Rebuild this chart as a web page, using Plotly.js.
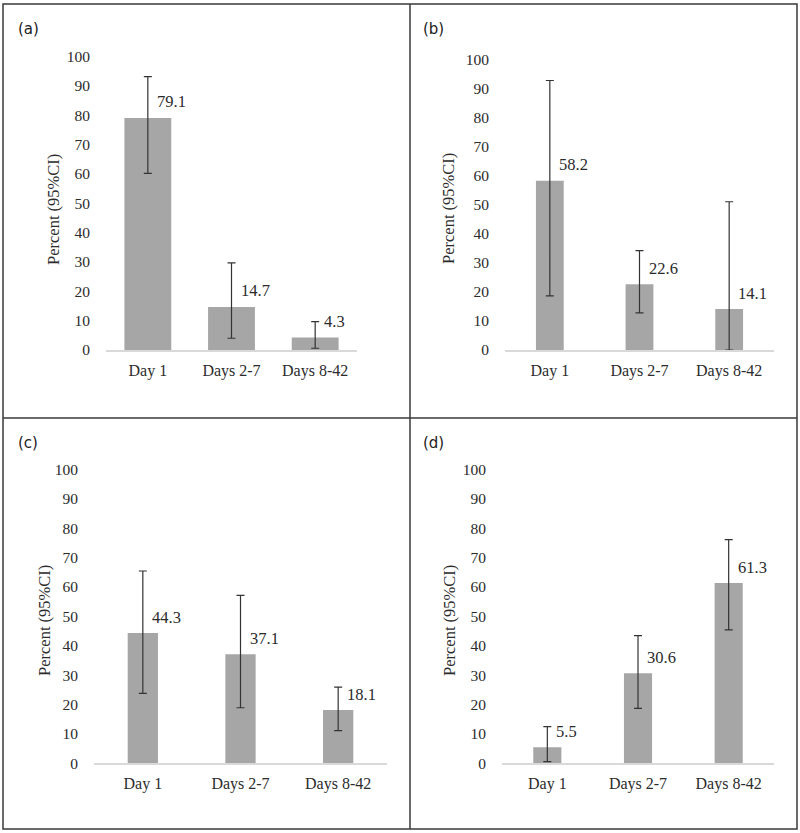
<!DOCTYPE html>
<html>
<head>
<meta charset="utf-8">
<script src="https://cdn.plot.ly/plotly-3.0.1.min.js"></script>
<style>
  html, body { margin: 0; padding: 0; background: #fff; }
  #chart { width: 800px; height: 833px; }
</style>
</head>
<body>
<div id="chart"></div>
<script>
// Chart data
const categories = ['Day 1', 'Days 2-7', 'Days 8-42'];
const panelNames = ['(a)', '(b)', '(c)', '(d)'];

const valuesA = [79.1, 14.7, 4.3];
const upperA = [93.2, 29.7, 9.7];
const lowerA = [60.2, 4.0, 0.6];

const valuesB = [58.2, 22.6, 14.1];
const upperB = [92.7, 34.2, 51.0];
const lowerB = [18.6, 12.8, 0];

const valuesC = [44.3, 37.1, 18.1];
const upperC = [65.4, 57.1, 25.9];
const lowerC = [23.8, 18.9, 11.1];

const valuesD = [5.5, 30.6, 61.3];
const upperD = [12.5, 43.4, 76.1];
const lowerD = [0.6, 18.7, 45.4];

const series = [
    { values: valuesA, upper: upperA, lower: lowerA },
    { values: valuesB, upper: upperB, lower: lowerB },
    { values: valuesC, upper: upperC, lower: lowerC },
    { values: valuesD, upper: upperD, lower: lowerD }
];

// Layout geometry (pixels on the 800x833 page)
const W = 800, H = 833;
const panels = [
    { x0: 106, x1: 357, yBottom: 350, yTop: 56.7, barWidth: 0.56, label: [16, 29], title: [53, 210] },
    { x0: 505, x1: 774, yBottom: 350, yTop: 59.3, barWidth: 0.31, label: [421, 29], title: [449, 209] },
    { x0: 94, x1: 387, yBottom: 763.3, yTop: 469.3, barWidth: 0.31, label: [16, 443], title: [44, 621] },
    { x0: 502, x1: 774, yBottom: 763.3, yTop: 469.3, barWidth: 0.31, label: [421, 443], title: [449, 621] }
];

const serif = '"Liberation Serif", "Times New Roman", serif';
const textColor = '#2b2b2b';

const traces = [];
const annotations = [];
const layout = {
    width: W,
    height: H,
    margin: { l: 0, r: 0, t: 0, b: 0 },
    paper_bgcolor: '#ffffff',
    plot_bgcolor: '#ffffff',
    showlegend: false,
    font: { family: serif, color: textColor },
    shapes: [
        // outer frame and dividers
        { type: 'rect', xref: 'paper', yref: 'paper', x0: 3 / W, x1: 797 / W, y0: 1 - 829 / H, y1: 1 - 4 / H,
          line: { color: '#3a3a3a', width: 1.5 } },
        { type: 'line', xref: 'paper', yref: 'paper', x0: 410 / W, x1: 410 / W, y0: 1 - 829 / H, y1: 1 - 4 / H,
          line: { color: '#3a3a3a', width: 1.5 } },
        { type: 'line', xref: 'paper', yref: 'paper', x0: 3 / W, x1: 797 / W, y0: 1 - 418 / H, y1: 1 - 418 / H,
          line: { color: '#3a3a3a', width: 1.5 } }
    ]
};

series.forEach((s, i) => {
    const p = panels[i];
    const n = i === 0 ? '' : String(i + 1);
    const xa = 'x' + n, ya = 'y' + n;

    traces.push({
        type: 'bar',
        x: categories,
        y: s.values,
        xaxis: xa,
        yaxis: ya,
        width: p.barWidth,
        marker: { color: '#a6a6a6', line: { width: 0 } },
        error_y: {
            type: 'data',
            symmetric: false,
            array: s.upper.map((u, k) => u - s.values[k]),
            arrayminus: s.values.map((v, k) => v - s.lower[k]),
            color: '#333333',
            thickness: 1.2,
            width: 4
        },
        hoverinfo: 'x+y'
    });

    layout['xaxis' + n] = {
        domain: [p.x0 / W, p.x1 / W],
        anchor: ya,
        type: 'category',
        range: [-0.5, 2.5],
        showline: true,
        linecolor: '#d9d9d9',
        linewidth: 1.5,
        ticks: '',
        ticklabelstandoff: 5,
        tickfont: { family: serif, size: 16, color: textColor },
        showgrid: false,
        zeroline: false,
        fixedrange: true
    };
    layout['yaxis' + n] = {
        domain: [1 - p.yBottom / H, 1 - p.yTop / H],
        anchor: xa,
        range: [0, 100],
        dtick: 10,
        showline: false,
        showgrid: false,
        zeroline: false,
        ticks: '',
        ticklabelstandoff: 15,
        tickfont: { family: serif, size: 15.5, color: textColor },
        fixedrange: true
    };

    // value labels next to each bar
    s.values.forEach((v, k) => {
        annotations.push({
            x: categories[k],
            y: v,
            xref: xa,
            yref: ya,
            text: v.toFixed(1),
            showarrow: false,
            xanchor: 'left',
            yanchor: 'middle',
            xshift: 7,
            yshift: 16,
            font: { family: serif, size: 16.5, color: textColor }
        });
    });

    // panel letter
    annotations.push({
        x: p.label[0] / W,
        y: 1 - p.label[1] / H,
        xref: 'paper',
        yref: 'paper',
        text: panelNames[i],
        showarrow: false,
        xanchor: 'left',
        yanchor: 'middle',
        font: { family: '"DejaVu Sans", Verdana, sans-serif', size: 15, color: '#222222' }
    });

    // y-axis title
    annotations.push({
        x: p.title[0] / W,
        y: 1 - p.title[1] / H,
        xref: 'paper',
        yref: 'paper',
        text: 'Percent (95%CI)',
        textangle: -90,
        showarrow: false,
        xanchor: 'center',
        yanchor: 'middle',
        font: { family: serif, size: 16.5, color: textColor }
    });
});

layout.annotations = annotations;

Plotly.newPlot('chart', traces, layout, { displayModeBar: false });
</script>
</body>
</html>
